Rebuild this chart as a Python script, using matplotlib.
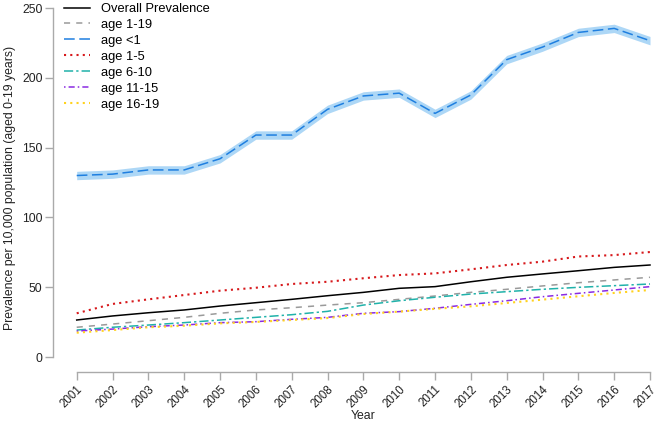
import matplotlib
matplotlib.use("Agg")
import matplotlib.pyplot as plt
from matplotlib.lines import Line2D
import numpy as np

years = list(range(2001, 2018))
overall = [26.5, 29.4, 31.7, 33.7, 36.5, 38.9, 41.3, 43.9, 46.3, 49.2, 50.4, 53.9, 57.1, 59.5, 61.8, 64.2, 65.9]
age_1_19 = [21.3, 23.6, 26.0, 28.4, 31.3, 33.7, 35.3, 37.2, 38.9, 41.3, 43.7, 46.3, 48.5, 50.9, 53.2, 55.2, 57.1]
age_lt1 = [130, 131, 134, 134, 142, 159, 159, 177.4, 187, 189, 174.5, 187.7, 213, 222, 232.5, 235.4, 226.6]
age_lt1_lo = [v - 3 for v in age_lt1]
age_lt1_hi = [v + 3 for v in age_lt1]
age_1_5 = [31.3, 38.0, 41.3, 44.4, 47.5, 49.6, 52.3, 53.9, 56.4, 58.7, 59.9, 62.8, 65.9, 68.3, 72.0, 73.0, 75.2]
age_6_10 = [19.3, 21.3, 22.9, 24.6, 26.5, 28.4, 30.3, 32.7, 37.2, 40.3, 42.8, 45.1, 46.8, 48.5, 49.9, 51.1, 52.3]
age_11_15 = [18.6, 20.0, 21.7, 22.9, 24.6, 25.3, 27.0, 28.4, 31.3, 32.5, 34.9, 37.7, 40.3, 43.2, 45.6, 48.0, 50.4]
age_16_19 = [17.4, 19.3, 21.3, 22.4, 24.1, 25.1, 26.5, 27.9, 30.8, 32.5, 34.5, 36.3, 38.7, 41.1, 43.5, 45.9, 48.0]

labels = ["Overall Prevalence", "age 1-19", "age <1", "age 1-5", "age 6-10", "age 11-15", "age 16-19"]
yticks = [0, 50, 100, 150, 200, 250]

plt.rcParams['font.family'] = ['Liberation Sans', 'DejaVu Sans']

W, H = 666, 425
fig = plt.figure(figsize=(W / 100, H / 100), dpi=100)
left_px, bottom_px = 53, 372
ax = fig.add_axes([left_px / W, (H - bottom_px) / H, (W - left_px) / W, bottom_px / H])

# pixel calibration
xpx_per_year = (650 - 76.7) / 16
x0 = 2001 - (76.7 - left_px) / xpx_per_year
x1 = 2017 + (W - 650) / xpx_per_year
ypx_per_unit = 1.396
y_zero_px = 357
ylo = -(bottom_px - y_zero_px) / ypx_per_unit
yhi = y_zero_px / ypx_per_unit
ax.set_xlim(x0, x1)
ax.set_ylim(ylo, yhi)

ax.fill_between(years, age_lt1_lo, age_lt1_hi, color='#9fd0f5', alpha=0.85, linewidth=0)

lw = 1.1
styles = [
    dict(color='black', linestyle='-', lw=1.1),
    dict(color='#9a9a9a', linestyle=(0, (4, 4)), lw=lw),
    dict(color='#1f7fe0', linestyle=(0, (7, 3)), lw=lw),
    dict(color='#d7191c', linestyle=(0, (1, 2)), lw=1.5),
    dict(color='#20b2aa', linestyle=(0, (6, 2, 1.5, 2)), lw=lw),
    dict(color='#8a2be2', linestyle=(0, (1, 2, 4, 2)), lw=lw),
    dict(color='#ffd21f', linestyle=(0, (1, 2)), lw=1.5),
]
series = [overall, age_1_19, age_lt1, age_1_5, age_6_10, age_11_15, age_16_19]
handles = []
for s, st, lab in zip(series, styles, labels):
    ax.plot(years, s, color=st['color'], linestyle=st['linestyle'], linewidth=st['lw'])
    handles.append(Line2D([0], [0], color=st['color'], linestyle=st['linestyle'], linewidth=st['lw']))

for sp in ['top', 'right']:
    ax.spines[sp].set_visible(False)
for sp in ['left', 'bottom']:
    ax.spines[sp].set_color('#aaaaaa')
    ax.spines[sp].set_linewidth(1.0)
ax.spines['left'].set_bounds(0, 250)
ax.spines['bottom'].set_bounds(2001, 2017)

ax.set_yticks(yticks)
ax.set_yticklabels([str(t) for t in yticks], fontsize=8.8)
ax.set_xticks(years)
ax.set_xticklabels([str(y) for y in years], rotation=45, ha='right', va='top',
                   rotation_mode='anchor', fontsize=8.3)
ax.tick_params(axis='both', colors='#aaaaaa', labelcolor='#222222', length=5.5, width=1.0)
ax.tick_params(axis='x', pad=2.5)
ax.tick_params(axis='y', pad=2)

ax.set_xlabel("Year", fontsize=8.8, color='#222222')
ax.xaxis.set_label_coords((363 - left_px) / (W - left_px), -(410 - bottom_px) / bottom_px)
ax.set_ylabel("Prevalence per 10,000 population (aged 0-19 years)", fontsize=8.8, color='#222222')
ax.yaxis.set_label_coords(-(left_px - 16) / (W - left_px), (bottom_px - 188) / bottom_px)

ax.legend(handles, labels, loc='upper left',
          bbox_to_anchor=(64 / W, 1 - 3 / H), bbox_transform=fig.transFigure, frameon=False,
          fontsize=9.3, handlelength=2.0, handletextpad=0.85, labelspacing=0.3,
          borderaxespad=0, borderpad=0)

fig.savefig("out.png", dpi=100)
